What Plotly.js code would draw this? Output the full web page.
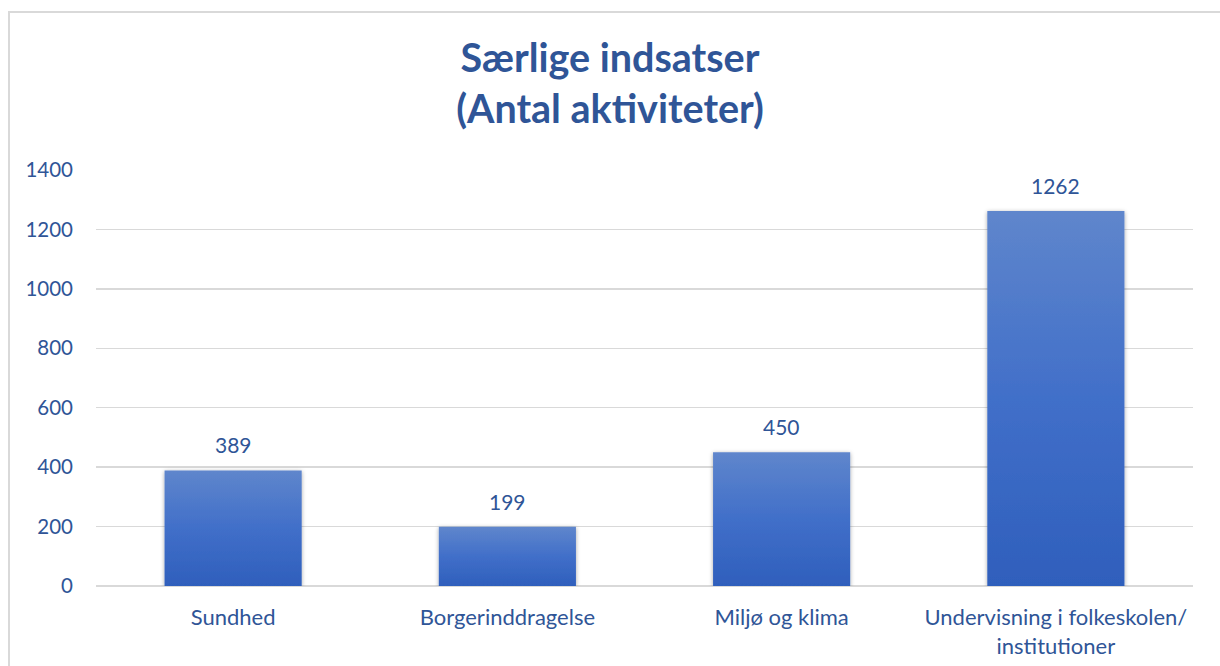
<!DOCTYPE html>
<html>
<head>
<meta charset="utf-8">
<script src="https://cdn.plot.ly/plotly-3.0.1.min.js"></script>
<style>
  html, body { margin: 0; padding: 0; background: #ffffff; }
  #wrap { position: relative; width: 1220px; height: 666px; overflow: hidden; }
  #frame { position: absolute; left: 8px; top: 11px; width: 1300px; height: 800px;
           border-left: 2px solid #d9d9d9; border-top: 2px solid #d9d9d9; }
  #chart { position: absolute; left: 0; top: 0; width: 1220px; height: 666px; }
</style>
</head>
<body>
<div id="wrap">
  <div id="frame"></div>
  <div id="chart"></div>
</div>
<script>
const categories = ["Sundhed", "Borgerinddragelse", "Miljø og klima", "Undervisning i folkeskolen/<br>institutioner"];
const values = [389, 199, 450, 1262];
const yTicks = [0, 200, 400, 600, 800, 1000, 1200, 1400];

const textColor = "#2f5597";
const fontFamily = "Lato, 'Open Sans', sans-serif";

const trace = {
  type: "bar",
  x: categories,
  y: values,
  marker: { color: "#4472c4", line: { width: 0 } },
  width: 0.5,
  hoverinfo: "x+y"
};

const annotations = categories.map(function (c, i) {
  return {
    x: c, y: values[i], xref: "x", yref: "y",
    text: String(values[i]),
    showarrow: false,
    xanchor: "center", yanchor: "bottom",
    yshift: 11,
    font: { family: fontFamily, size: 21, color: textColor }
  };
});

const layout = {
  width: 1220,
  height: 666,
  paper_bgcolor: "rgba(0,0,0,0)",
  plot_bgcolor: "rgba(0,0,0,0)",
  margin: { l: 96, r: 27, t: 170, b: 80 },
  title: {
    text: "<b>Særlige indsatser<br>(Antal aktiviteter)</b>",
    font: { family: fontFamily, size: 39.5, color: textColor },
    x: 0.5, xanchor: "center",
    y: 1 - 72 / 666, yanchor: "middle"
  },
  showlegend: false,
  annotations: annotations,
  xaxis: {
    type: "category",
    showgrid: false,
    showline: false,
    zeroline: false,
    ticks: "outside",
    ticklen: 12,
    tickcolor: "rgba(0,0,0,0)",
    tickfont: { family: fontFamily, size: 22, color: textColor }
  },
  yaxis: {
    range: [0, 1400],
    tickvals: yTicks,
    ticktext: yTicks.map(String),
    showgrid: true,
    gridcolor: "#d9d9d9",
    gridwidth: 1.5,
    zeroline: true,
    zerolinecolor: "#d9d9d9",
    zerolinewidth: 1.5,
    showline: false,
    ticks: "",
    ticklabelstandoff: 22,
    tickfont: { family: fontFamily, size: 20.5, color: textColor }
  },
  bargap: 0.5
};

Plotly.newPlot("chart", [trace], layout, { displayModeBar: false, staticPlot: true }).then(function (gd) {
  const svg = gd.querySelector("svg.main-svg");
  const ns = "http://www.w3.org/2000/svg";
  let defs = svg.querySelector("defs");
  if (!defs) { defs = document.createElementNS(ns, "defs"); svg.insertBefore(defs, svg.firstChild); }
  const grad = document.createElementNS(ns, "linearGradient");
  grad.setAttribute("id", "barGrad");
  grad.setAttribute("x1", "0"); grad.setAttribute("y1", "0");
  grad.setAttribute("x2", "0"); grad.setAttribute("y2", "1");
  [["0", "#5f86cc"], ["0.5", "#416fc9"], ["1", "#2f5fbc"]].forEach(function (s) {
    const st = document.createElementNS(ns, "stop");
    st.setAttribute("offset", s[0]);
    st.setAttribute("stop-color", s[1]);
    grad.appendChild(st);
  });
  defs.appendChild(grad);
  const filt = document.createElementNS(ns, "filter");
  filt.setAttribute("id", "barShadow");
  filt.setAttribute("x", "-10%"); filt.setAttribute("y", "-10%");
  filt.setAttribute("width", "120%"); filt.setAttribute("height", "120%");
  const ds = document.createElementNS(ns, "feDropShadow");
  ds.setAttribute("dx", "0"); ds.setAttribute("dy", "1");
  ds.setAttribute("stdDeviation", "2");
  ds.setAttribute("flood-color", "#000"); ds.setAttribute("flood-opacity", "0.35");
  filt.appendChild(ds);
  defs.appendChild(filt);
  gd.querySelectorAll(".bars .point path").forEach(function (p) {
    p.style.fill = "url(#barGrad)";
    p.style.filter = "url(#barShadow)";
  });
});
</script>
</body>
</html>
